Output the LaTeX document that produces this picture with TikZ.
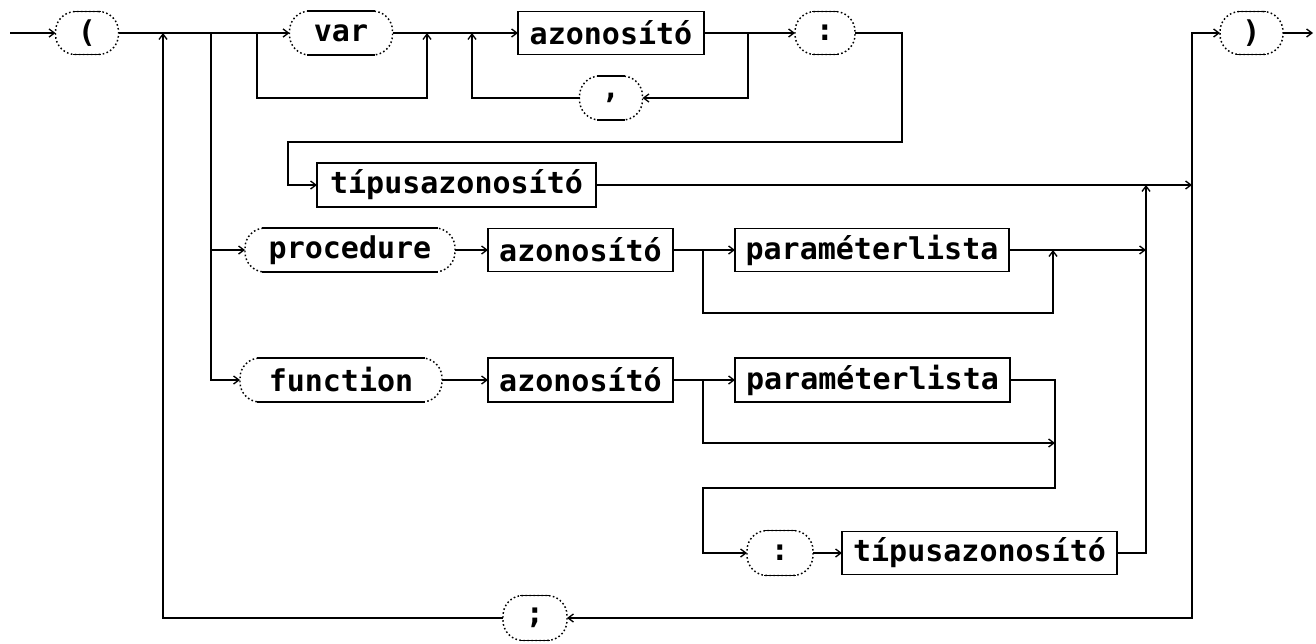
\documentclass[tikz,border=0pt]{standalone}
\usepackage{fontspec}
\setmonofont{DejaVu Sans Mono}
\usetikzlibrary{arrows.meta}
\begin{document}
\begin{tikzpicture}[x=0.75pt,y=-0.75pt,
  conn/.style={line width=1.3pt},
  arr/.style={conn, -{Straight Barb[length=4pt,width=6pt,line width=1pt]}},
  lbl/.style={font=\fontsize{22.5}{22.5}\selectfont\ttfamily\bfseries},
  nt/.style={lbl, draw, line width=1.4pt, inner sep=0pt, outer sep=0pt},
  term/.style={lbl, draw, line width=1.1pt, dash pattern=on 1.2pt off 1.8pt, rounded corners=15pt, inner sep=0pt, outer sep=0pt},
  flat/.style={line width=1.4pt},
]
\useasboundingbox (0,0) rectangle (1316,643);

% nodes
\node[term, minimum width=47.25pt, minimum height=32.25pt] (lp)   at (87,33)     {(};
\node[term, minimum width=77.25pt, minimum height=33pt]    (var)  at (341,33)    {var};
\node[nt,   minimum width=139.5pt, minimum height=32.25pt] (az1)  at (611,33)    {azonosító};
\node[term, minimum width=47.25pt, minimum height=33pt]    (comma) at (611,98)   {,};
\node[term, minimum width=45pt,    minimum height=32.25pt] (colA) at (825,33)    {:};
\node[nt,   minimum width=209.25pt,minimum height=33pt]    (tipA) at (456.5,185) {típusazonosító};
\node[term, minimum width=47.25pt, minimum height=32.25pt] (rp)   at (1251.5,33) {)};
\node[term, minimum width=157.5pt, minimum height=33pt]    (proc) at (350,250)   {procedure};
\node[nt,   minimum width=138.75pt,minimum height=32.25pt] (az2)  at (580.5,250) {azonosító};
\node[nt,   minimum width=205.5pt, minimum height=32.25pt] (par1) at (872,250)   {paraméterlista};
\node[term, minimum width=151.5pt, minimum height=33pt]    (func) at (341,380)   {function};
\node[nt,   minimum width=138.75pt,minimum height=33pt]    (az3)  at (580.5,380) {azonosító};
\node[nt,   minimum width=206.25pt,minimum height=33pt]    (par2) at (872.5,380) {paraméterlista};
\node[term, minimum width=49.5pt,  minimum height=33.75pt] (colB) at (780,553)   {:};
\node[nt,   minimum width=206.25pt,minimum height=32.25pt] (tipB) at (979.5,553) {típusazonosító};
\node[term, minimum width=48pt,    minimum height=33.75pt] (semi) at (535,618)   {;};

% solid flat parts of the terminal outlines
\foreach \n in {lp,var,comma,colA,rp,proc,func,colB,semi}{
  \draw[flat] ([xshift=13pt]\n.north west) -- ([xshift=-13pt]\n.north east);
  \draw[flat] ([xshift=13pt]\n.south west) -- ([xshift=-13pt]\n.south east);
}

% junction coordinates
\coordinate (s)    at (10,33);
\coordinate (e)    at (1313,33);
\coordinate (a163) at (163,33);
\coordinate (a211) at (211,33);
\coordinate (jv1)  at (257,33);
\coordinate (jv2)  at (427,33);
\coordinate (jc2)  at (472,33);
\coordinate (jc1)  at (748,33);
\coordinate (k1)   at (902,142);
\coordinate (k2)   at (288,142);
\coordinate (jr)   at (1192,185);
\coordinate (jq)   at (1146,185);
\coordinate (jp)   at (1146,250);
\coordinate (b1)   at (703,250);
\coordinate (b2)   at (1053,250);
\coordinate (c1)   at (703,380);
\coordinate (c2)   at (1055,443);
\coordinate (c3)   at (1055,488);
\coordinate (c4)   at (703,488);

% top row
\draw[arr] (s) -- (lp.west);
\draw[arr] (lp.east) -- (var.west);
\draw[arr] (var.east) -- (az1.west);
\draw[arr] (jv1) -- ++(0,65) -| (jv2);
\draw[arr] (jc1) |- (comma.east);
\draw[arr] (comma.west) -| (jc2);
\draw[arr] (az1.east) -- (colA.west);
\draw[arr] (colA.east) -| (k1) -- (k2) |- (tipA.west);
\draw[arr] (tipA.east) -- (jr);
\draw[arr] (jr) |- (rp.west);
\draw[arr] (rp.east) -- (e);

% loop back through ;
\draw[arr] (jr) |- (semi.east);
\draw[arr] (semi.west) -| (a163);

% procedure / function branches
\draw[arr] (a211) |- (proc.west);
\draw[arr] (a211) |- (func.west);

% procedure row
\draw[arr] (proc.east) -- (az2.west);
\draw[arr] (az2.east) -- (par1.west);
\draw[arr] (b1) -- ++(0,63) -| (b2);
\draw[arr] (par1.east) -- (jp);

% function row
\draw[arr] (func.east) -- (az3.west);
\draw[arr] (az3.east) -- (par2.west);
\draw[arr] (c1) |- (c2);
\draw[arr] (par2.east) -| (c3) -- (c4) |- (colB.west);
\draw[arr] (colB.east) -- (tipB.west);
\draw[arr] (tipB.east) -| (jq);
\end{tikzpicture}
\end{document}
